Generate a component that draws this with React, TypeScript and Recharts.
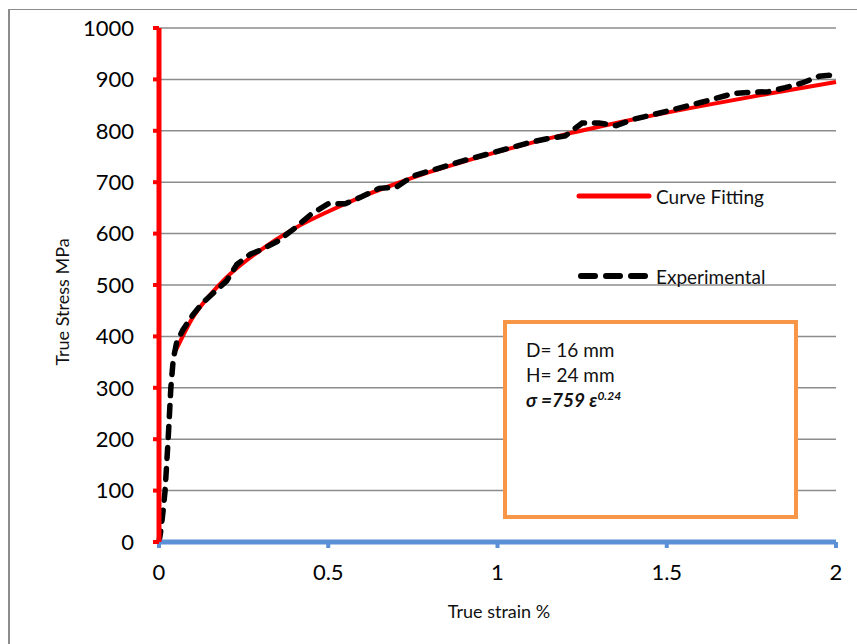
import { LineChart, Line, XAxis, YAxis, CartesianGrid } from "recharts";

// curve fitting (power law)
const fitStrain = [0.05, 0.1, 0.15, 0.2, 0.3, 0.4, 0.5, 0.6, 0.7, 0.8, 0.9, 1.0, 1.2, 1.4, 1.6, 1.8, 2.0];
const fitStress = [373, 437, 480, 515, 568, 610, 643, 672, 697, 720, 740, 759, 793, 822, 848, 872, 895];

// experimental points
const expStrain = [
  0, 0.005, 0.012, 0.018, 0.027, 0.035, 0.042, 0.052, 0.07, 0.1, 0.13, 0.17, 0.2, 0.23, 0.27, 0.3, 0.35, 0.4,
  0.45, 0.5, 0.55, 0.6, 0.65, 0.7, 0.75, 0.8, 0.9, 1.0, 1.1, 1.15, 1.2, 1.25, 1.3, 1.35, 1.4, 1.5, 1.6, 1.7,
  1.75, 1.8, 1.85, 1.9, 1.95, 1.98, 2.0,
];
const expStress = [
  0, 20, 60, 100, 200, 300, 355, 388, 412, 442, 466, 490, 508, 540, 560, 568, 585, 610,
  638, 658, 658, 672, 688, 690, 712, 722, 742, 760, 778, 785, 790, 815, 815, 810, 822, 838, 855, 873,
  875, 876, 884, 893, 906, 908, 905,
];

const xTicks = [0, 0.5, 1, 1.5, 2];
const yTicks = [0, 100, 200, 300, 400, 500, 600, 700, 800, 900, 1000];

const fitData = fitStrain.map((x, i) => ({ x, y: fitStress[i] }));
const expData = expStrain.map((x, i) => ({ x, y: expStress[i] }));

const FONT = "Lato, 'Open Sans', sans-serif";

export default function App() {
  return (
    <div style={{ position: "absolute", left: 0, top: 0, width: 857, height: 644, background: "#fff", overflow: "hidden" }}>
      <div
        style={{
          position: "absolute",
          left: 8,
          top: 9,
          right: -4,
          bottom: -4,
          borderLeft: "2px solid #8c8c8c",
          borderTop: "1px solid #8c8c8c",
        }}
      />
      <LineChart width={857} height={644} margin={{ top: 28, right: 21, left: 0, bottom: 42 }}>
        <CartesianGrid vertical={false} stroke="#8c8c8c" strokeWidth={1.5} />
        <XAxis
          type="number"
          dataKey="x"
          domain={[0, 2]}
          ticks={xTicks}
          interval={0}
          height={60}
          axisLine={{ stroke: "#5b8fd6", strokeWidth: 5 }}
          tickLine={{ stroke: "#5b8fd6", strokeWidth: 4 }}
          tickSize={6}
          tickMargin={16}
          tick={{ fill: "#000", fontSize: 22, fontFamily: FONT }}
        />
        <YAxis
          type="number"
          domain={[0, 1000]}
          ticks={yTicks}
          interval={0}
          width={159}
          axisLine={{ stroke: "#ff0000", strokeWidth: 5 }}
          tickLine={{ stroke: "#ff0000", strokeWidth: 4 }}
          tickSize={6}
          tickMargin={19}
          tick={{ fill: "#000", fontSize: 22, fontFamily: FONT }}
        />
        <Line
          data={fitData}
          dataKey="y"
          name="Curve Fitting"
          type="monotone"
          stroke="#ff0000"
          strokeWidth={4}
          dot={false}
          isAnimationActive={false}
        />
        <Line
          data={expData}
          dataKey="y"
          name="Experimental"
          type="linear"
          stroke="#000"
          strokeWidth={5.5}
          strokeDasharray="11 10"
          strokeLinecap="round"
          dot={false}
          isAnimationActive={false}
        />
      </LineChart>

      {/* legend */}
      <div style={{ position: "absolute", left: 575, top: 181, fontFamily: FONT, fontSize: 19, color: "#111" }}>
        <div style={{ display: "flex", alignItems: "center", height: 30 }}>
          <svg width={81} height={10}>
            <line x1={4} y1={5} x2={74} y2={5} stroke="#ff0000" strokeWidth={5} strokeLinecap="round" />
          </svg>
          <span>Curve Fitting</span>
        </div>
        <div style={{ display: "flex", alignItems: "center", height: 30, marginTop: 50 }}>
          <svg width={81} height={10}>
            <line x1={6} y1={5} x2={74} y2={5} stroke="#000" strokeWidth={6} strokeDasharray="14 11" strokeLinecap="round" />
          </svg>
          <span>Experimental</span>
        </div>
      </div>

      {/* axis titles */}
      <div
        style={{
          position: "absolute",
          left: 62,
          top: 302,
          transform: "translate(-50%, -50%) rotate(-90deg)",
          whiteSpace: "nowrap",
          fontFamily: FONT,
          fontSize: 18,
          color: "#111",
        }}
      >
        True Stress MPa
      </div>
      <div
        style={{
          position: "absolute",
          left: 499,
          top: 611,
          transform: "translate(-50%, -50%)",
          whiteSpace: "nowrap",
          fontFamily: FONT,
          fontSize: 18,
          color: "#111",
        }}
      >
        True strain %
      </div>

      {/* annotation box */}
      <div
        style={{
          position: "absolute",
          left: 503,
          top: 320,
          width: 295,
          height: 199,
          boxSizing: "border-box",
          border: "4px solid #f79646",
          background: "#fff",
          fontFamily: FONT,
          fontSize: 19,
          color: "#111",
          padding: "13px 0 0 19px",
          lineHeight: "25px",
        }}
      >
        <div>D= 16 mm</div>
        <div>H= 24 mm</div>
        <div style={{ fontWeight: "bold", fontStyle: "italic" }}>
          σ =759 ε<sup style={{ fontSize: 12, lineHeight: 0 }}>0.24</sup>
        </div>
      </div>
    </div>
  );
}
